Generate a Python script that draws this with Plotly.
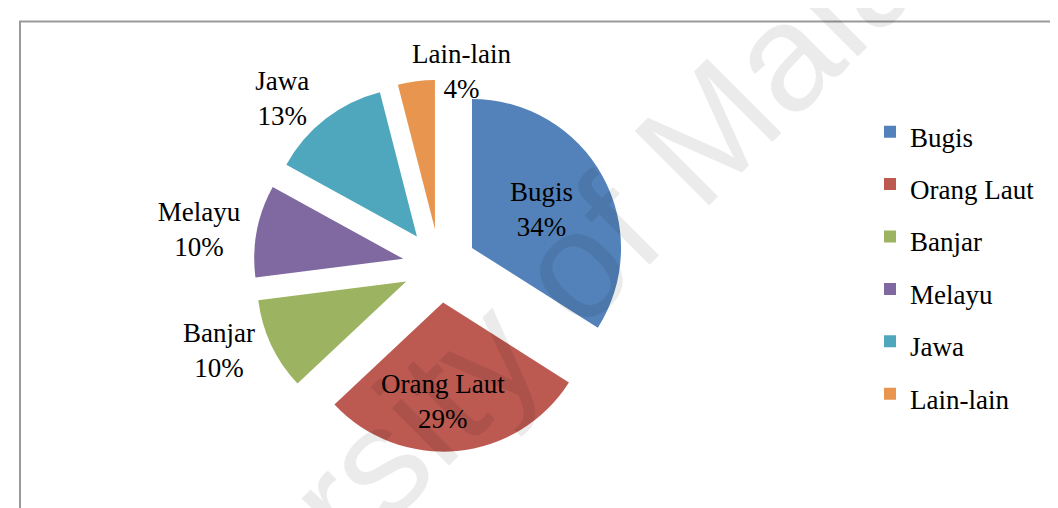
import plotly.graph_objects as go

# ---- data ----
categories = ["Bugis", "Orang Laut", "Banjar", "Melayu", "Jawa", "Lain-lain"]
percentages = [34, 29, 10, 10, 13, 4]
colors = ["#5282B9", "#BC5A52", "#9CB361", "#8069A0", "#4FA7BD", "#E8964F"]
text_positions = ["inside", "inside", "outside", "outside", "outside", "none"]
watermark_text = "University of Malaya"

W, H = 1058, 508

def px_x(x):
    return x / W

def px_y(y):
    return 1 - y / H

legend_labels = [f"<span style='font-size:27px'>{c}</span>" for c in categories]
label_font = dict(family="Liberation Serif", size=27, color="#000000")

fig = go.Figure()
fig.add_trace(go.Pie(
    labels=legend_labels,
    values=percentages,
    customdata=categories,
    sort=False,
    direction="clockwise",
    rotation=0,
    pull=0.248,
    marker=dict(colors=colors, line=dict(width=0)),
    texttemplate="<span style='color:#000000;fill-opacity:1'>%{customdata}<br>%{percent:.0%}</span>",
    textposition=text_positions,
    insidetextorientation="horizontal",
    insidetextfont=label_font,
    outsidetextfont=dict(family="Liberation Serif", size=27, color="rgba(0,0,0,0)"),
    hoverinfo="label+percent",
    domain=dict(x=[px_x(245.6), px_x(617.6)], y=[px_y(443.8), px_y(71.8)]),
    showlegend=True,
))

# label of the thin "Lain-lain" slice, set just above the slice as in the reference
small_idx = categories.index("Lain-lain")
small_label = dict(
    text=f"{categories[small_idx]}<br>{percentages[small_idx]}%",
    xref="paper", yref="paper", x=px_x(453), y=px_y(63),
    xanchor="center", yanchor="middle", showarrow=False, font=label_font,
)

fig.update_layout(
    width=W, height=H,
    margin=dict(l=0, r=0, t=0, b=0, autoexpand=False),
    paper_bgcolor="white",
    plot_bgcolor="white",
    font=dict(family="Liberation Serif", color="#000000"),
    uniformtext=dict(minsize=27, mode="show"),
    legend=dict(
        x=px_x(862), xanchor="left",
        y=px_y(255), yanchor="middle",
        font=dict(family="Liberation Serif", size=38, color="#000000"),
        bgcolor="rgba(0,0,0,0)",
    ),
    shapes=[dict(
        type="rect", xref="paper", yref="paper",
        x0=px_x(12), x1=1.05, y0=-0.05, y1=px_y(13.5),
        line=dict(color="#9A9A9A", width=2), fillcolor="rgba(0,0,0,0)",
        layer="above",
    )],
    annotations=[
        small_label,
        dict(
            text=watermark_text, xref="paper", yref="paper",
            x=px_x(516), y=px_y(306), xanchor="center", yanchor="middle",
            showarrow=False, textangle=-45,
            font=dict(family="Liberation Sans", size=153, color="rgba(0,0,0,0.08)"),
        ),
    ],
)

fig.write_html("out.html")
